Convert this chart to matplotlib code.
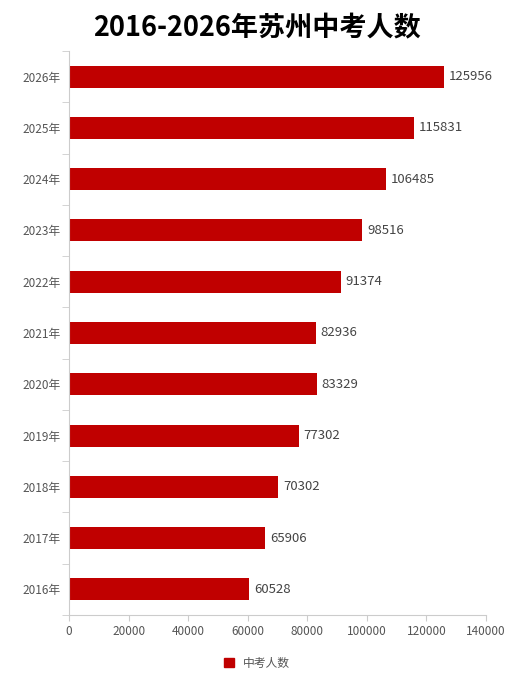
import matplotlib
matplotlib.use("Agg")
import matplotlib.pyplot as plt
from matplotlib.patches import Patch

plt.rcParams['font.family'] = ['Noto Sans CJK SC', 'DejaVu Sans']

years = ["2016年","2017年","2018年","2019年","2020年","2021年","2022年","2023年","2024年","2025年","2026年"]
values = [60528, 65906, 70302, 77302, 83329, 82936, 91374, 98516, 106485, 115831, 125956]
xticks = [0, 20000, 40000, 60000, 80000, 100000, 120000, 140000]

fig = plt.figure(figsize=(5.14, 6.88), dpi=100)
ax = fig.add_axes([69/514, 1-615/688, (486-69)/514, (615-51)/688])
color = '#C00000'
ax.barh(range(len(years)), values, height=0.43, color=color)
for i, v in enumerate(values):
    ax.text(v + 1500, i, str(v), va='center', ha='left', fontsize=9.5, color='#444444')
ax.set_ylim(-0.5, len(years) - 0.5)
ax.set_xlim(0, 140000)
ax.set_xticks(xticks)
ax.set_xticklabels([str(t) for t in xticks], fontsize=8.5, color='#555555')
ax.set_yticks(range(len(years)))
ax.set_yticklabels(years, fontsize=8.5, color='#555555')
ax.tick_params(axis='y', length=0, pad=6)
ax.tick_params(axis='x', length=4, color='#cccccc')
ax.set_yticks([i - 0.5 for i in range(len(years) + 1)], minor=True)
ax.tick_params(axis='y', which='minor', length=5, color='#cccccc')
for s in ['top', 'right']:
    ax.spines[s].set_visible(False)
for s in ['left', 'bottom']:
    ax.spines[s].set_color('#cccccc')

fig.text(0.5, 1-28/688, "2016-2026年苏州中考人数", ha='center', va='center', fontsize=19.5, fontweight='bold')
fig.legend(handles=[Patch(color=color, label='中考人数')], loc='center', bbox_to_anchor=(0.5, 1-663/688),
           frameon=False, fontsize=8.5, handlelength=0.8, handleheight=0.8, labelcolor='#555555')
fig.savefig("out.png", dpi=100)
